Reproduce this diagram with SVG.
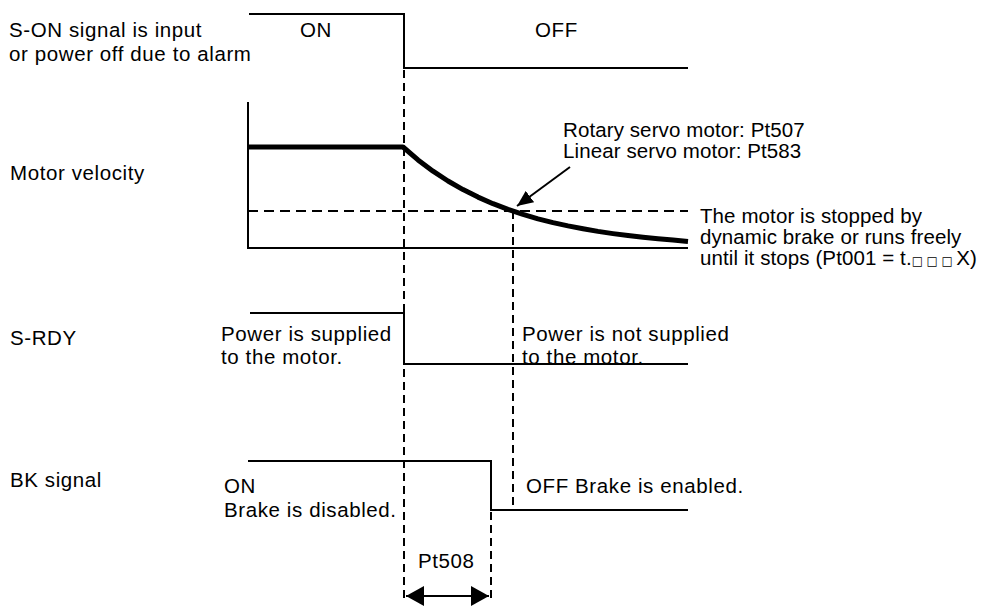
<svg xmlns="http://www.w3.org/2000/svg" width="983" height="608" viewBox="0 0 983 608">
<style>
text{font-family:"Liberation Sans",Arial,sans-serif;font-size:20.5px;letter-spacing:0.6px;fill:#000}
text.note{letter-spacing:0.1px}
.sig{fill:none;stroke:#000;stroke-width:2}
.thick{fill:none;stroke:#000;stroke-width:5;stroke-linejoin:round}
.dash{fill:none;stroke:#000;stroke-width:2;stroke-dasharray:8 5}
.hdash{fill:none;stroke:#000;stroke-width:2;stroke-dasharray:10 6}
.sq{font-family:"DejaVu Sans",sans-serif;font-size:12px;letter-spacing:3.5px}
</style>
<defs>
<marker id="ah" viewBox="0 0 16 14" refX="16" refY="7" markerWidth="16" markerHeight="14" markerUnits="userSpaceOnUse" orient="auto-start-reverse">
<path d="M0,0 L16,7 L0,14 Z" fill="#000"/>
</marker>
<marker id="big" viewBox="0 0 18 20" refX="18" refY="10" markerWidth="18" markerHeight="20" markerUnits="userSpaceOnUse" orient="auto-start-reverse">
<path d="M0,0 L18,10 L0,20 Z" fill="#000"/>
</marker>
</defs>

<g id="labels">
<text x="9" y="37">S-ON signal is input</text>
<text x="9" y="61">or power off due to alarm</text>
<text x="10" y="180">Motor velocity</text>
<text x="10" y="345">S-RDY</text>
<text x="10" y="487">BK signal</text>
</g>

<g id="son-signal">
<path class="sig" d="M249,14 H404 V68 H688"/>
<text x="300" y="37">ON</text>
<text x="535" y="37">OFF</text>
</g>

<g id="motor-velocity">
<path class="sig" d="M248,102 V248 H688"/>
<path class="thick" d="M248,147 H403 L418,159.9 L433,171.2 L448,181 L463,189.6 L478,197.1 L493,203.7 L508,209.4 L523,214.4 L538,218.8 L553,222.6 L568,225.9 L583,228.8 L598,231.4 L613,233.6 L628,235.6 L643,237.3 L658,238.7 L673,240 L688,241.5"/>
<path class="hdash" d="M248,211 H688"/>
<text class="note" x="563" y="137">Rotary servo motor: Pt507</text>
<text class="note" x="563" y="158">Linear servo motor: Pt583</text>
<text class="note" x="700" y="223">The motor is stopped by</text>
<text class="note" x="700" y="244">dynamic brake or runs freely</text>
<text class="note" x="700" y="265">until it stops (Pt001 = t.<tspan class="sq">□□□</tspan>X)</text>
</g>

<g id="srdy-signal">
<path class="sig" d="M250,313 H404 V364 H688"/>
<text x="221" y="341">Power is supplied</text>
<text x="221" y="364">to the motor.</text>
<text x="522" y="341">Power is not supplied</text>
<text x="522" y="364">to the motor.</text>
</g>

<g id="bk-signal">
<path class="sig" d="M248,461 H491 V510 H688"/>
<text x="224" y="493">ON</text>
<text x="224" y="517">Brake is disabled.</text>
<text x="526" y="493">OFF Brake is enabled.</text>
<text x="418" y="568">Pt508</text>
</g>

<g id="connectors">
<path class="dash" d="M404,70 V602"/>
<path class="dash" d="M513,211 V510"/>
<path class="dash" d="M491,512 V598"/>
<path class="sig" d="M570,167 L517,206" marker-end="url(#ah)"/>
<path class="sig" d="M406,596 H489" marker-start="url(#big)" marker-end="url(#big)"/>
</g>
</svg>
